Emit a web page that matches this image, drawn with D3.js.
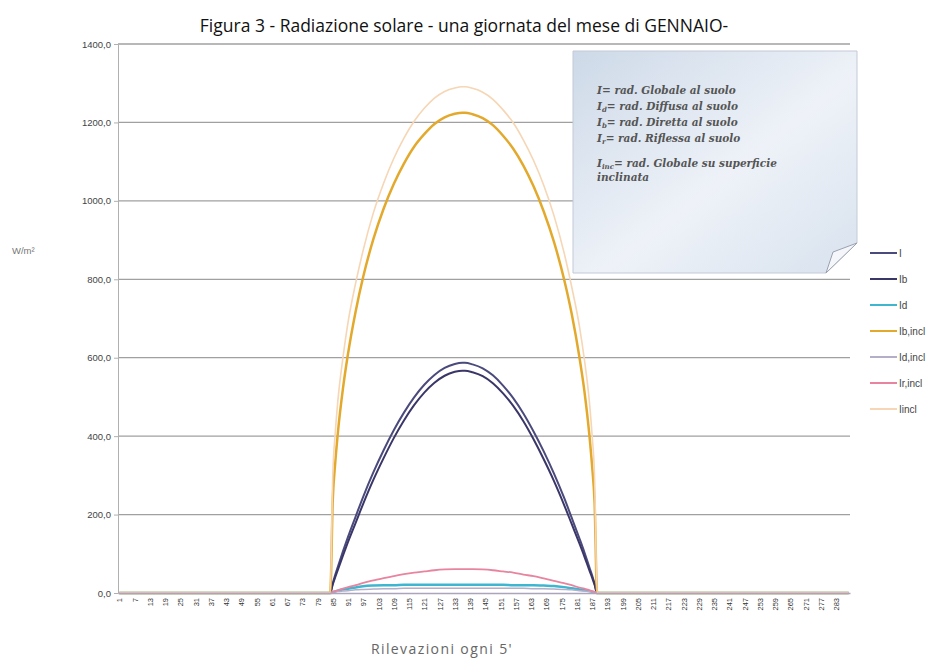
<!DOCTYPE html>
<html>
<head>
<meta charset="utf-8">
<script src="https://cdn.jsdelivr.net/npm/d3@7"></script>
<style>
  body { margin: 0; background: #fff; }
</style>
</head>
<body>
<svg id="chart" width="930" height="663"></svg>
<script>
const rilevazioni = [1,
  84, 85, 86, 87, 89, 91, 94, 97, 101, 105, 109, 113, 117, 121, 125, 129, 133, 136,
  137, 140, 144, 148, 152, 156, 160, 164, 168, 172, 176, 179, 182, 184, 186, 187, 188, 189,
  288];

const serieI = [0,
  0, 25, 47, 67, 106, 143, 195, 246, 308, 364, 415, 460, 499, 531, 556, 574, 584, 587,
  587, 583, 573, 555, 529, 497, 458, 412, 361, 305, 243, 192, 140, 104, 65, 46, 24, 0,
  0];
const serieIb = [0,
  0, 22, 41, 59, 95, 130, 179, 228, 289, 344, 395, 440, 479, 511, 536, 554, 564, 567,
  567, 563, 553, 535, 509, 477, 438, 392, 341, 286, 225, 176, 127, 93, 57, 40, 21, 0,
  0];
const serieId = [0,
  0, 2, 4, 6, 9, 11, 14, 17, 19, 20, 20, 21, 21, 21, 21, 21, 21, 21,
  21, 21, 21, 21, 21, 20, 20, 20, 19, 18, 15, 12, 9, 7, 5, 3, 2, 0,
  0];
const serieIbIncl = [0,
  0, 238, 334, 408, 521, 610, 718, 807, 903, 980, 1043, 1095, 1138, 1170, 1196, 1213, 1222, 1225,
  1225, 1221, 1211, 1193, 1166, 1133, 1090, 1037, 973, 896, 800, 712, 603, 515, 400, 326, 232, 0,
  0];
const serieIdIncl = [0,
  0, 1, 3, 4, 5, 6, 8, 9, 10, 11, 11, 12, 12, 12, 12, 12, 12, 12,
  12, 12, 12, 12, 12, 12, 12, 11, 11, 10, 9, 8, 6, 5, 4, 3, 1, 0,
  0];
const serieIrIncl = [0,
  0, 3, 5, 7, 11, 15, 20, 26, 32, 38, 43, 48, 52, 55, 58, 60, 61, 61,
  61, 61, 60, 58, 55, 52, 47, 43, 37, 31, 25, 20, 14, 11, 7, 5, 3, 0,
  0];
const serieIIncl = [0,
  0, 300, 410, 490, 600, 690, 790, 875, 970, 1045, 1108, 1160, 1203, 1236, 1262, 1279, 1288, 1291,
  1291, 1287, 1277, 1259, 1232, 1199, 1155, 1103, 1040, 963, 868, 781, 682, 595, 485, 405, 296, 0,
  0];

const seriesNames = ["I", "Ib", "Id", "Ib,incl", "Id,incl", "Ir,incl", "Iincl"];
const seriesValues = [serieI, serieIb, serieId, serieIbIncl, serieIdIncl, serieIrIncl, serieIIncl];

const yTicks = [0, 200, 400, 600, 800, 1000, 1200, 1400];
const xTicks = d3.range(1, 289, 6);   // category labels 1, 7, 13 ... 283
const nCategorie = 288;

const titolo = "Figura 3 - Radiazione solare - una giornata del mese di GENNAIO-";
const titoloY = "W/m²";
const titoloX = "Rilevazioni ogni 5'";
const noteLines = [
  {sub: "", text: "= rad. Globale al suolo"},
  {sub: "d", text: "= rad. Diffusa  al suolo"},
  {sub: "b", text: "= rad. Diretta al suolo"},
  {sub: "r", text: "= rad. Riflessa al suolo"},
  {sub: "inc", text: "= rad. Globale su superficie"},
  {sub: null, text: "inclinata"}
];

// styles
let colors = ["#4a4a7c", "#3a3768", "#3fb6cf", "#e3a92c", "#b4aec8", "#e8849f", "#f6d6b4"];
let widths = [2, 2, 2.5, 2.5, 1.5, 1.8, 1.6];

let margin = ({top: 44, right: 80, bottom: 70, left: 118});
let W = 930, H = 663;

let svg = d3.select("#chart");
let fmt = d3.formatLocale({decimal: ",", thousands: ".", grouping: [3], currency: ["", "€"]}).format(".1f");

let x = d3.scaleLinear().domain([0.5, nCategorie + 0.5]).range([margin.left, W - margin.right]);
let y = d3.scaleLinear().domain([0, 1400]).range([H - margin.bottom, margin.top]);

// title
svg.append("text")
  .attr("x", 464).attr("y", 32)
  .attr("text-anchor", "middle")
  .attr("font-family", "'Open Sans', sans-serif")
  .attr("font-size", 17.5)
  .attr("fill", "#111")
  .text(titolo);

// gridlines
svg.append("g")
  .selectAll("line")
  .data(yTicks.filter(d => d > 0))
  .join("line")
    .attr("x1", margin.left).attr("x2", W - margin.right)
    .attr("y1", d => y(d)).attr("y2", d => y(d))
    .attr("stroke", "#a0a0a0")
    .attr("stroke-width", 1.3);

// y axis
let yAxis = svg.append("g")
  .attr("transform", `translate(${margin.left},0)`)
  .call(d3.axisLeft(y).tickValues(yTicks).tickFormat(fmt).tickSize(4).tickPadding(3));
yAxis.select(".domain").attr("stroke", "#b0b0b0");
yAxis.selectAll(".tick line").attr("stroke", "#b0b0b0");
yAxis.selectAll(".tick text")
  .attr("font-family", "'Liberation Sans', Arial, sans-serif")
  .attr("font-size", 9.5)
  .attr("fill", "#444");

svg.append("text")
  .attr("x", 12).attr("y", 254)
  .attr("font-family", "'Liberation Sans', Arial, sans-serif")
  .attr("font-size", 9.5)
  .attr("fill", "#777")
  .text(titoloY);

// series lines
let line = d3.line()
  .x((d, i) => x(rilevazioni[i]))
  .y(d => y(d))
  .curve(d3.curveMonotoneX);

svg.append("g")
  .attr("fill", "none")
  .selectAll("path")
  .data(seriesValues)
  .join("path")
    .attr("stroke", (d, i) => colors[i])
    .attr("stroke-width", (d, i) => widths[i])
    .attr("stroke-linejoin", "round")
    .attr("d", line);

// x axis
let xAxis = svg.append("g")
  .attr("transform", `translate(0,${y(0)})`)
  .call(d3.axisBottom(x).tickValues(xTicks).tickSize(0).tickPadding(0));
xAxis.select(".domain").attr("stroke", "#aaa5ba").attr("stroke-width", 1.5);
xAxis.selectAll(".tick text")
  .attr("transform", "rotate(-90)")
  .attr("text-anchor", "end")
  .attr("x", -5)
  .attr("y", 0)
  .attr("dy", "0.35em")
  .attr("font-family", "'Liberation Sans', Arial, sans-serif")
  .attr("font-size", 7.5)
  .attr("fill", "#333");

svg.append("text")
  .attr("x", 442).attr("y", 654)
  .attr("text-anchor", "middle")
  .attr("font-family", "'Open Sans', sans-serif")
  .attr("font-size", 14)
  .attr("letter-spacing", 1.4)
  .attr("fill", "#666")
  .text(titoloX);

// note box with folded corner
let defs = svg.append("defs");
let grad = defs.append("linearGradient")
  .attr("id", "noteFill")
  .attr("x1", "0").attr("y1", "0").attr("x2", "1").attr("y2", "1");
grad.append("stop").attr("offset", "0%").attr("stop-color", "#cdd9e8");
grad.append("stop").attr("offset", "55%").attr("stop-color", "#eef2f8");
grad.append("stop").attr("offset", "100%").attr("stop-color", "#d8e2ee");

let note = svg.append("g");
note.append("path")
  .attr("d", "M573,51 H857 V243 L826,273 H573 Z")
  .attr("fill", "url(#noteFill)")
  .attr("stroke", "#c3cad6")
  .attr("stroke-width", 1);
note.append("path")
  .attr("d", "M857,243 L826,273 L833,252 Z")
  .attr("fill", "#f4f6fa")
  .attr("stroke", "#9aa2b0")
  .attr("stroke-width", 1);

let noteText = note.append("text")
  .attr("font-family", "'DejaVu Serif', 'Liberation Serif', serif")
  .attr("font-style", "italic")
  .attr("font-weight", "bold")
  .attr("font-size", 10.5)
  .attr("fill", "#555");
let noteY = [94, 110, 126, 142, 167, 181];
noteLines.forEach((l, i) => {
  let t = noteText.append("tspan").attr("x", 597).attr("y", noteY[i]);
  if (l.sub !== null) {
    t.text("I");
    if (l.sub) {
      noteText.append("tspan").attr("font-size", 7).attr("dy", 2).text(l.sub);
      noteText.append("tspan").attr("dy", -2).text(l.text);
    } else {
      noteText.append("tspan").text(l.text);
    }
  } else {
    t.text(l.text);
  }
});

// legend
let legend = svg.append("g")
  .attr("font-family", "'Liberation Sans', Arial, sans-serif")
  .attr("font-size", 10)
  .attr("fill", "#444")
  .selectAll("g")
  .data(seriesNames)
  .join("g")
    .attr("transform", (d, i) => `translate(870,${253 + i * 26})`);
legend.append("line")
  .attr("x1", 0).attr("x2", 27)
  .attr("stroke", (d, i) => colors[i])
  .attr("stroke-width", 2);
legend.append("text")
  .attr("x", 29).attr("dy", "0.35em")
  .text(d => d);
</script>
</body>
</html>
